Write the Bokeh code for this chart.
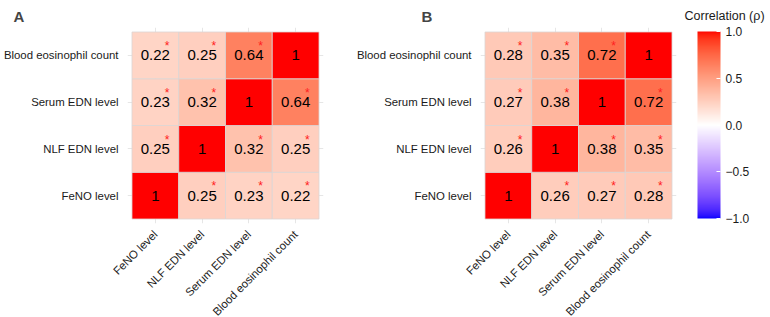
import numpy as np
from bokeh.plotting import figure
from bokeh.models import (ColumnDataSource, LinearColorMapper, ColorBar,
                          FixedTicker, Range1d)
from bokeh.layouts import row
from bokeh.embed import file_html
from bokeh.resources import INLINE
from bokeh.core.properties import value

# Variables, in axis order (x left->right, y bottom->top)
variables = ["FeNO level", "NLF EDN level", "Serum EDN level", "Blood eosinophil count"]

# Pairwise correlations for the off-diagonal pairs, order:
# (FeNO,NLF) (FeNO,Serum) (FeNO,Blood) (NLF,Serum) (NLF,Blood) (Serum,Blood)
rho_a = [0.25, 0.23, 0.22, 0.32, 0.25, 0.64]
rho_b = [0.26, 0.27, 0.28, 0.38, 0.35, 0.72]
signif_a = [True, True, True, True, True, True]
signif_b = [True, True, True, True, True, True]

colorbar_ticks = [-1.0, -0.5, 0.0, 0.5, 1.0]
colorbar_labels = ["\u22121.0", "\u22120.5", "0.0", "0.5", "1.0"]
colorbar_title = "Correlation (\u03c1)"

FONT = "Liberation Sans"


# ---- blue-white-red gradient interpolated in CIE Lab ----
def srgb_to_lab(rgb):
    c = np.asarray(rgb, float) / 255.0
    lin = np.where(c <= 0.04045, c / 12.92, ((c + 0.055) / 1.055) ** 2.4)
    M = np.array([[0.4124564, 0.3575761, 0.1804375],
                  [0.2126729, 0.7151522, 0.0721750],
                  [0.0193339, 0.1191920, 0.9503041]])
    xyz = M @ lin / np.array([0.95047, 1.0, 1.08883])
    d = 6 / 29
    f = np.where(xyz > d ** 3, np.cbrt(xyz), xyz / (3 * d * d) + 4 / 29)
    return np.array([116 * f[1] - 16, 500 * (f[0] - f[1]), 200 * (f[1] - f[2])])


def lab_to_hex(lab):
    L, a, b = lab
    fy = (L + 16) / 116
    fx = fy + a / 500
    fz = fy - b / 200
    d = 6 / 29
    f = np.array([fx, fy, fz])
    xyz = np.where(f > d, f ** 3, 3 * d * d * (f - 4 / 29)) * np.array([0.95047, 1.0, 1.08883])
    Minv = np.array([[3.2404542, -1.5371385, -0.4985314],
                     [-0.9692660, 1.8760108, 0.0415560],
                     [0.0556434, -0.2040259, 1.0572252]])
    lin = np.clip(Minv @ xyz, 0, 1)
    c = np.where(lin <= 0.0031308, 12.92 * lin, 1.055 * lin ** (1 / 2.4) - 0.055)
    c = np.clip(np.round(c * 255), 0, 255).astype(int)
    return "#%02x%02x%02x" % tuple(c)


lab_low = srgb_to_lab([0, 0, 255])
lab_mid = srgb_to_lab([255, 255, 255])
lab_high = srgb_to_lab([255, 0, 0])
palette = []
for v in np.linspace(-1, 1, 401):
    end = lab_high if v >= 0 else lab_low
    palette.append(lab_to_hex(lab_mid + abs(v) * (end - lab_mid)))
mapper = LinearColorMapper(palette=palette, low=-1, high=1)


def build_matrix(rho, sig):
    n = len(variables)
    m = np.eye(n)
    s = np.zeros((n, n), bool)
    k = 0
    for i in range(n):
        for j in range(i + 1, n):
            m[i, j] = m[j, i] = rho[k]
            s[i, j] = s[j, i] = sig[k]
            k += 1
    return m, s


PAD = 0.096


def panel(rho, sig, letter, left, right, letter_x):
    m, s = build_matrix(rho, sig)
    n = len(variables)
    xs, ys, rs, labels, sx, sy = [], [], [], [], [], []
    for i in range(n):
        for j in range(n):
            xs.append(j + 1)
            ys.append(i + 1)
            rs.append(m[i, j])
            labels.append("1" if i == j else "%.2f" % m[i, j])
    src = ColumnDataSource(dict(x=xs, y=ys, r=rs, label=labels))
    for i in range(n):
        for j in range(n):
            if i != j and s[i, j]:
                sx.append(j + 1 + 0.25)
                sy.append(i + 1 + 0.2)
    star_src = ColumnDataSource(dict(x=sx, y=sy, t=["*"] * len(sx)))

    p = figure(frame_width=196, frame_height=196,
               x_range=Range1d(0.5 - PAD, n + 0.5 + PAD),
               y_range=Range1d(0.5 - PAD, n + 0.5 + PAD),
               output_backend="svg", toolbar_location=None,
               min_border_left=left, min_border_right=right,
               min_border_top=27, min_border_bottom=90)
    p.outline_line_color = None
    p.background_fill_color = "white"
    p.border_fill_color = "white"

    ticks = list(range(1, n + 1))
    overrides = {t: v for t, v in zip(ticks, variables)}
    for ax in (p.xaxis, p.yaxis):
        ax.ticker = FixedTicker(ticks=ticks)
        ax.major_label_overrides = overrides
        ax.axis_line_color = None
        ax.major_tick_line_color = None
        ax.minor_tick_line_color = None
        ax.major_label_text_font = FONT
        ax.major_label_text_font_size = "11.4px"
        ax.major_label_text_color = "#1a1a1a"
        ax.major_label_standoff = 3
    p.xaxis.major_label_orientation = np.pi / 4

    for g in (p.xgrid, p.ygrid):
        g.ticker = FixedTicker(ticks=ticks)
        g.grid_line_color = "#e6e6e6"
        g.grid_line_width = 1

    p.rect(x="x", y="y", width=1, height=1, source=src,
           fill_color={"field": "r", "transform": mapper},
           line_color="#dcd6d4", line_width=0.8)
    p.text(x="x", y="y", text="label", source=src,
           text_align="center", text_baseline="middle",
           text_font=value(FONT), text_font_size="15px", text_color="black")
    p.text(x="x", y="y", text="t", source=star_src,
           text_align="center", text_baseline="middle",
           text_font=value(FONT), text_font_size="12px", text_color="#ff2020")

    p.title.text = letter
    p.title.text_font = FONT
    p.title.text_font_style = "bold"
    p.title.text_font_size = "15px"
    p.title.align = "left"
    p.title.offset = letter_x - left
    p.title.standoff = 6
    return p


# panel A: frame starts ~127 px in; panel B's y labels reach back into A's margin
pa = panel(rho_a, signif_a, "A", 126, 30, 12)
pb = panel(rho_b, signif_b, "B", 99, 5, 393 - 479 + 126)

# legend: a small figure that only holds the colour bar and its title
pc = figure(frame_width=88, frame_height=196, x_range=Range1d(0, 1), y_range=Range1d(0, 1),
            x_axis_type=None, y_axis_type=None,
            output_backend="svg", toolbar_location=None,
            min_border_left=0, min_border_right=0,
            min_border_top=27, min_border_bottom=90,
            title=colorbar_title)
pc.outline_line_color = None
pc.grid.visible = False
pc.title.text_font = FONT
pc.title.text_font_size = "12.5px"
pc.title.text_font_style = "normal"
pc.title.text_color = "#1a1a1a"
pc.title.align = "left"
pc.title.offset = 3
pc.title.standoff = 9

cbar = ColorBar(color_mapper=mapper,
                ticker=FixedTicker(ticks=colorbar_ticks),
                major_label_overrides={t: l for t, l in zip(colorbar_ticks, colorbar_labels)},
                width=23, height=187,
                major_label_text_font=FONT, major_label_text_font_size="12px",
                major_label_text_color="#1a1a1a",
                major_tick_line_color="white", major_tick_in=4, major_tick_out=0,
                minor_tick_line_color=None, bar_line_color=None,
                label_standoff=5, padding=0, margin=0,
                background_fill_alpha=0, border_line_color=None,
                location=(16, 5))
pc.add_layout(cbar, "center")

layout = row(pa, pb, pc)
open("out.html", "w").write(file_html(layout, INLINE))
